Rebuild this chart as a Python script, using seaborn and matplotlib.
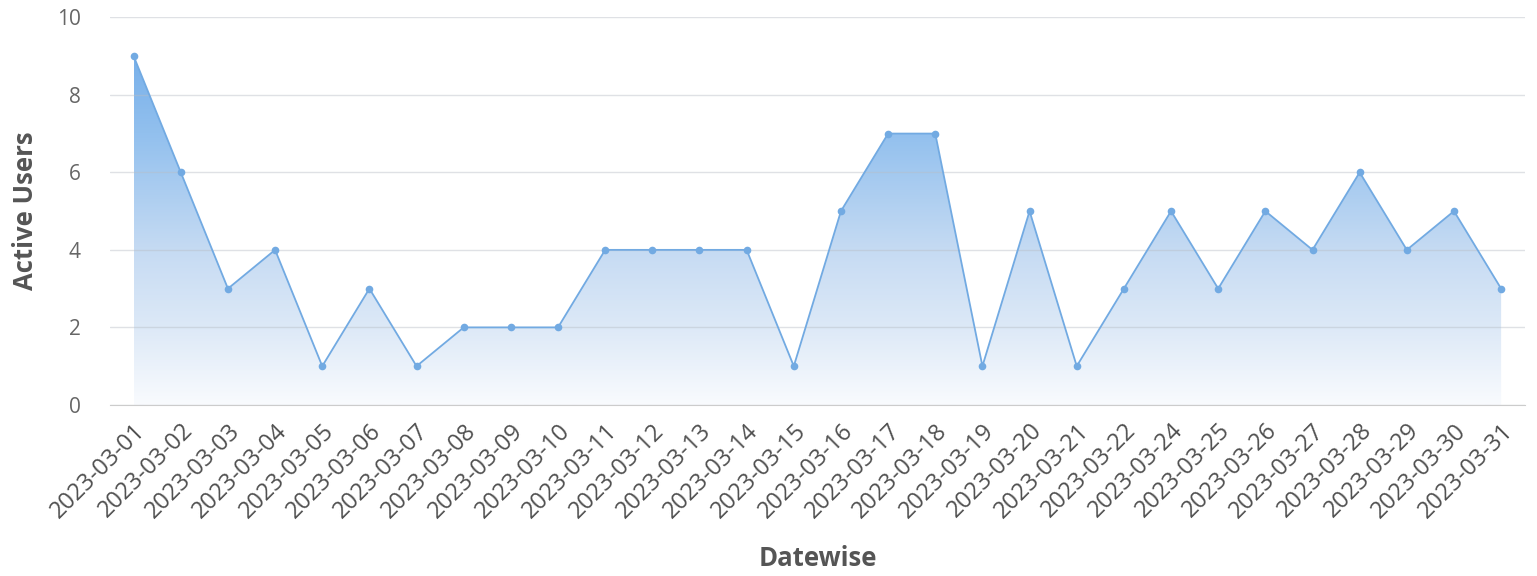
import numpy as np
import pandas as pd
import matplotlib.pyplot as plt
import seaborn as sns
from matplotlib.colors import LinearSegmentedColormap
from matplotlib.ticker import FixedLocator

dates = ["2023-03-01", "2023-03-02", "2023-03-03", "2023-03-04", "2023-03-05",
         "2023-03-06", "2023-03-07", "2023-03-08", "2023-03-09", "2023-03-10",
         "2023-03-11", "2023-03-12", "2023-03-13", "2023-03-14", "2023-03-15",
         "2023-03-16", "2023-03-17", "2023-03-18", "2023-03-19", "2023-03-20",
         "2023-03-21", "2023-03-22", "2023-03-24", "2023-03-25", "2023-03-26",
         "2023-03-27", "2023-03-28", "2023-03-29", "2023-03-30", "2023-03-31"]
active_users = [9, 6, 3, 4, 1, 3, 1, 2, 2, 2,
                4, 4, 4, 4, 1, 5, 7, 7, 1, 5,
                1, 3, 5, 3, 5, 4, 6, 4, 5, 3]

df = pd.DataFrame({"Datewise": dates, "Active Users": active_users})

sns.set_style("white")
plt.rcParams["font.family"] = ["Open Sans", "DejaVu Sans"]

line_color = "#72aae2"

fig = plt.figure(figsize=(15.37, 5.76), dpi=100)
ax = fig.add_axes([0.0716, 0.297, 0.9204, 0.673])

x = np.arange(len(dates))
# gradient area under the line
fill = ax.fill_between(x, active_users, 0, color="none", lw=0)
cmap = LinearSegmentedColormap.from_list(
    "grad", [(0, "#f9fbfe"), (0.22, "#dde9f7"), (0.44, "#c6dbf3"),
             (0.78, "#92c0ee"), (1, "#78b0ea")])
grad = np.linspace(0, 1, 256).reshape(-1, 1)
im = ax.imshow(grad, cmap=cmap, aspect="auto", origin="lower",
               extent=[x[0], x[-1], 0, max(active_users)], zorder=0.3)
im.set_clip_path(fill.get_paths()[0], transform=ax.transData)

sns.lineplot(data=df, x="Datewise", y="Active Users", ax=ax, color=line_color,
             lw=1.3, marker="o", markersize=5.5, markeredgewidth=0, zorder=3)

ax.set_xlim(-0.5, len(dates) - 0.5)
ax.set_ylim(0, 10)
ax.set_yticks([0, 2, 4, 6, 8, 10])
ax.yaxis.grid(True, color="#b8bec6", alpha=0.45, lw=1, zorder=0.5)
ax.set_axisbelow(True)

ax.set_xticks(x)
ax.set_xticklabels(dates, rotation=45, ha="right", rotation_mode="anchor",
                   fontsize=17, color="#505050")
ax.tick_params(axis="x", which="major", length=0, pad=10)
ax.xaxis.set_minor_locator(FixedLocator(np.arange(-0.5, len(dates), 1)))
ax.tick_params(axis="x", which="minor", length=10, color="#cccccc", width=1)
ax.tick_params(axis="y", length=0, labelsize=15, labelcolor="#666666", pad=21)

for s in ["top", "right", "left"]:
    ax.spines[s].set_visible(False)
ax.spines["bottom"].set_color("#cccccc")

ax.set_xlabel("Datewise", fontsize=18.5, fontweight="bold", color="#555555", labelpad=16)
ax.set_ylabel("Active Users", fontsize=18.5, fontweight="bold", color="#555555", labelpad=13)

fig.savefig("out.png", dpi=100)
